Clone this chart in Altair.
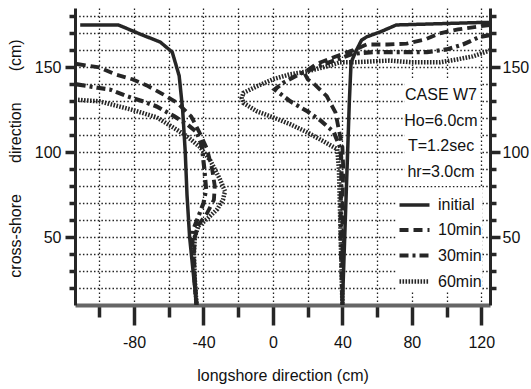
import altair as alt
import pandas as pd

series_names = ["initial", "10min", "30min", "60min"]

# Shoreline traces, longshore x (cm) and cross-shore y (cm), west side of the structure
initial_left_x = [-111, -89, -75, -65, -58, -54, -52, -50.5, -49.5, -48, -46, -44]
initial_left_y = [175, 175, 169, 165, 159, 145, 125, 100, 75, 50, 30, 10]

min10_left_x = [-113, -100, -91, -81, -72, -63, -55, -47, -42, -38, -35, -33.5, -34, -38, -43, -45, -45.5, -45, -44]
min10_left_y = [152, 150, 146, 143, 139, 134, 129, 121, 111, 102, 90, 80, 72, 64, 57, 50, 40, 25, 10]

min30_left_x = [-113, -101, -94, -84, -75, -67, -56.5, -49.5, -44, -41, -39.5, -38.5, -40, -43, -46, -46.5, -45.5, -44]
min30_left_y = [140, 138, 137, 133, 130, 127, 121, 116.5, 112, 104, 90, 78, 70, 62, 54, 45, 30, 10]

min60_left_x = [-114, -100, -81, -67, -57.6, -49.5, -42, -36, -30.5, -27.6, -28.8, -32, -38, -43, -45, -45.5, -45, -44]
min60_left_y = [131, 130, 125, 120.6, 114.7, 109.4, 103, 95, 84, 77, 72, 66.5, 60.6, 56.5, 50, 40, 25, 10]

# East side of the structure
initial_right_x = [40, 41, 42, 43, 44, 45, 48, 51, 54, 62, 71, 121, 125]
initial_right_y = [10, 40, 70, 100, 130, 153, 160, 166, 168, 171, 175, 176.5, 176.5]

min10_right_x = [125, 117.5, 106.6, 96, 87.6, 77, 66, 54, 46, 35, 25, 18, 20, 24, 31, 36, 38, 40, 40.5, 40, 40, 40, 40]
min10_right_y = [175, 174, 172.4, 170, 166.5, 164, 163.5, 163.5, 160, 156, 152, 147, 143, 140, 133, 123.5, 113, 103, 90, 70, 50, 30, 10]

min30_right_x = [125, 119, 109.4, 100, 88.7, 77, 67.4, 57.6, 46, 35, 25, 15, 6, 1, 10, 20, 27, 35, 39, 39.5, 39, 39, 39.5, 40]
min30_right_y = [169, 168, 163.5, 160.6, 159, 159, 159, 159, 158, 154, 150, 146, 141, 137, 130, 124, 119, 112, 102, 90, 70, 50, 30, 10]

min60_right_x = [125, 115, 106, 96, 80, 67, 46, 38.6, 31, 19.6, 10, 0, -9, -17, -18, -17, -9, 0, 10, 19.6, 29, 37, 38, 38.5, 39, 39.5, 40]
min60_right_y = [160, 156.5, 154.7, 153, 153, 154, 153, 153, 150.6, 147.6, 146, 143, 139, 135, 132, 129, 124, 120.6, 116.5, 111.8, 106.5, 101.8, 90, 70, 50, 30, 10]

case_notes = ["CASE W7", "Ho=6.0cm", "T=1.2sec", "hr=3.0cm"]


def trace(name, side, xs, ys):
    return pd.DataFrame({"series": name, "side": side, "x": xs, "y": ys,
                         "i": list(range(len(xs)))})


left_df = pd.concat([
    trace("initial", "L", initial_left_x, initial_left_y),
    trace("10min", "L", min10_left_x, min10_left_y),
    trace("30min", "L", min30_left_x, min30_left_y),
    trace("60min", "L", min60_left_x, min60_left_y),
])
right_df = pd.concat([
    trace("initial", "R", initial_right_x, initial_right_y),
    trace("10min", "R", min10_right_x, min10_right_y),
    trace("30min", "R", min30_right_x, min30_right_y),
    trace("60min", "R", min60_right_x, min60_right_y),
])

FONT = "Liberation Sans, Arial, Helvetica, sans-serif"
INK = "#262626"
TXT = "#111"
NB = "\u00a0"

x_scale = alt.Scale(domain=[-114, 125], nice=False, zero=False)
y_scale = alt.Scale(domain=[10, 185], nice=False, zero=False)
dash_scale = alt.Scale(domain=series_names, range=[[1, 0], [9, 5], [9, 4, 3, 4], [1.6, 1.4]])
width_scale = alt.Scale(domain=series_names, range=[3.5, 4.5, 4.5, 6])

legend = alt.Legend(
    title=None, orient="none", legendX=322, legendY=180, padding=0,
    symbolType="stroke", symbolSize=900, symbolStrokeColor=INK, symbolStrokeWidth=4,
    labelFont=FONT, labelFontSize=16, labelColor=TXT, labelOffset=6,
    rowPadding=-4, fillColor="white",
)

x_axis = alt.Axis(
    values=list(range(-100, 121, 20)),
    labelExpr="datum.value % 40 == 0 ? '' + datum.value : ''",
    tickSize={"condition": {"test": "datum.value % 40 == 0", "value": 20}, "value": 12},
    tickWidth=3.5, tickColor=INK, domainColor="#666", domainWidth=4,
    grid=True, gridDash=[1.5, 2.5], gridColor="#222", gridWidth=1.3,
    labelFont=FONT, labelFontSize=16, labelColor=TXT, labelPadding=9,
    title="longshore direction (cm)", titleFont=FONT, titleFontSize=16,
    titleFontWeight="normal", titleColor=TXT, titleY=62,
)

tick_vals = list(range(20, 181, 10))
y_left_axis = alt.Axis(
    orient="left", values=tick_vals,
    labelExpr="datum.value % 50 == 0 ? '' + datum.value : ''",
    tickSize={"condition": {"test": "datum.value % 50 == 0", "value": 10}, "value": 6},
    tickWidth=3.5, tickColor=INK, domainColor=INK, domainWidth=3,
    grid=True, gridDash=[1.5, 2.2], gridColor="#222", gridWidth=1.3,
    labelFont=FONT, labelFontSize=16, labelColor=TXT, labelPadding=4,
    title=f"cross-shore{NB * 7}direction{NB * 7}(cm)", titleFont=FONT, titleFontSize=16,
    titleFontWeight="normal", titleColor=TXT, titleX=-60, titleY=150,
    titleBaseline="middle",
)
y_right_axis = alt.Axis(
    orient="right", values=tick_vals,
    labelExpr="datum.value % 50 == 0 ? '' + datum.value : ''",
    tickSize={"condition": {"test": "datum.value % 50 == 0", "value": 10}, "value": 6},
    tickWidth=3.5, tickColor=INK, domainColor=INK, domainWidth=3,
    grid=False, labelFont=FONT, labelFontSize=16, labelColor=TXT, labelPadding=2,
    title=None,
)

left_lines = alt.Chart(left_df).mark_line(color=INK, strokeCap="butt", clip=True).encode(
    x=alt.X("x:Q", scale=x_scale, axis=x_axis),
    y=alt.Y("y:Q", scale=y_scale, axis=y_left_axis),
    detail="series:N",
    order="i:Q",
    strokeDash=alt.StrokeDash("series:N", scale=dash_scale, legend=legend),
    strokeWidth=alt.StrokeWidth("series:N", scale=width_scale, legend=legend),
)

right_lines = alt.Chart(right_df).mark_line(color=INK, strokeCap="butt", clip=True).encode(
    x=alt.X("x:Q", scale=x_scale, axis=x_axis),
    y=alt.Y("y:Q", scale=y_scale, axis=y_right_axis),
    detail="series:N",
    order="i:Q",
    strokeDash=alt.StrokeDash("series:N", scale=dash_scale, legend=legend),
    strokeWidth=alt.StrokeWidth("series:N", scale=width_scale, legend=legend),
)

# white panel behind the case description
panel = alt.Chart(pd.DataFrame({"k": [0]})).mark_rect(color="white").encode(
    x=alt.value(330), x2=alt.value(405), y=alt.value(72), y2=alt.value(178),
)

notes_df = pd.DataFrame({"note": case_notes, "row": list(range(len(case_notes)))})
notes = alt.Chart(notes_df).mark_text(
    font=FONT, fontSize=16, color=TXT, align="center", baseline="middle"
).encode(
    x=alt.value(366),
    y=alt.Y("row:Q", scale=alt.Scale(domain=[0, 3], range=[87, 164]), axis=None),
    text="note:N",
)

chart = alt.layer(left_lines, right_lines, panel, notes).resolve_axis(
    y="independent"
).resolve_scale(y="independent").properties(
    width=415, height=297,
    autosize=alt.AutoSizeParams(type="none"),
    padding={"left": 75, "top": 8, "right": 41, "bottom": 84},
    background="white",
).configure_view(stroke=None)

chart.save("out.html", embed_options={"renderer": "svg", "actions": False})
